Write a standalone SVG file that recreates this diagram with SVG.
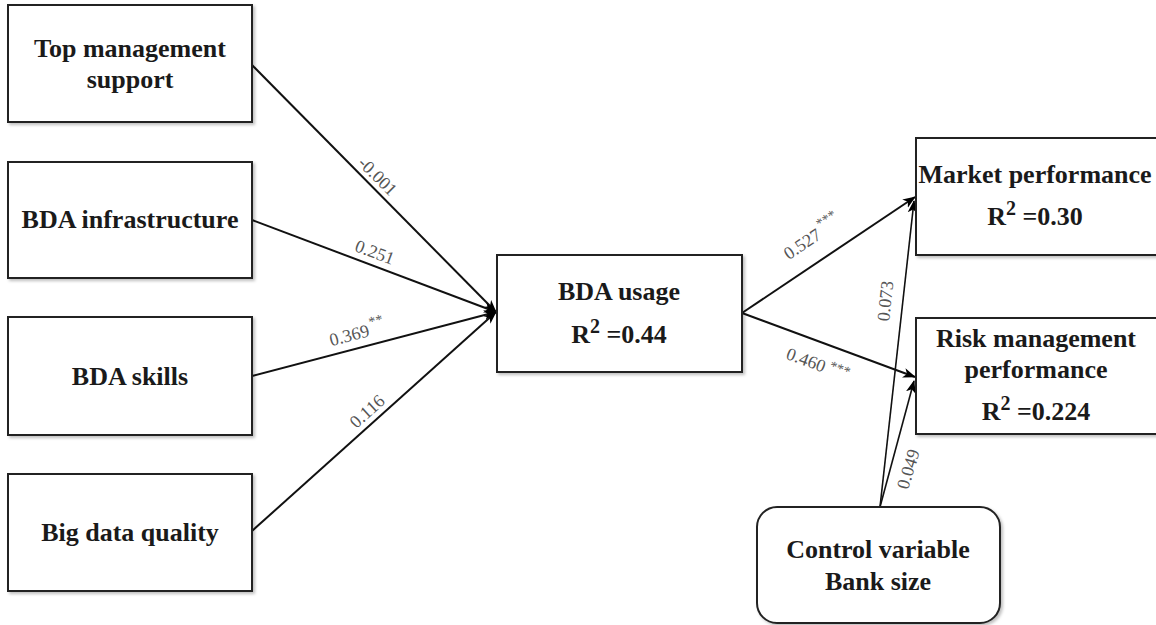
<svg xmlns="http://www.w3.org/2000/svg" width="1156" height="625" viewBox="0 0 1156 625">
<style>
.box{fill:#fff;stroke:#222;stroke-width:2;filter:url(#sh)}
.t{font-family:"Liberation Serif","Times New Roman",serif;font-weight:bold;font-size:26px;fill:#1a1a1a;text-anchor:middle}
.e{stroke:#111;stroke-width:2;fill:none;marker-end:url(#ah)}
.lb{font-family:"Liberation Serif","Times New Roman",serif;font-size:18px;fill:#555;text-anchor:middle}
.sup{font-size:14px}
</style>
<defs>
<filter id="sh" x="-10%" y="-10%" width="130%" height="130%">
<feDropShadow dx="2" dy="2" stdDeviation="1.5" flood-color="#000" flood-opacity="0.25"/>
</filter>
<marker id="ah" markerUnits="userSpaceOnUse" markerWidth="14" markerHeight="12" refX="12" refY="5" orient="auto" viewBox="0 0 14 10">
<path d="M0,0 L13,5 L0,10 L3.5,5 z" fill="#000"/>
</marker>
</defs>

<g id="connectors">
<line class="e" x1="252" y1="65" x2="496" y2="312"/>
<line class="e" x1="252" y1="220" x2="496" y2="312"/>
<line class="e" x1="252" y1="376" x2="496" y2="312"/>
<line class="e" x1="252" y1="531" x2="496" y2="312"/>
<line class="e" x1="742" y1="313" x2="915" y2="197"/>
<line class="e" x1="742" y1="313" x2="915" y2="377"/>
<line class="e" style="stroke-width:1.6" x1="880" y1="507" x2="914" y2="201"/>
<line class="e" style="stroke-width:1.6" x1="880" y1="507" x2="914" y2="381"/>
<text class="lb" transform="translate(378,176) rotate(45)" dy="0.35em">-0.001</text>
<text class="lb" transform="translate(375,252) rotate(20.6)" dy="0.35em">0.251</text>
<text class="lb" transform="translate(357,333) rotate(-14.6)" dy="0.35em">0.369<tspan class="sup" dx="2" dy="-9">**</tspan></text>
<text class="lb" transform="translate(367,411) rotate(-41.8)" dy="0.35em">0.116</text>
<text class="lb" transform="translate(812,237) rotate(-33.7)" dy="0.35em">0.527<tspan class="sup" dx="3" dy="-9">***</tspan></text>
<text class="lb" transform="translate(818,364) rotate(20.5)" dy="0.35em">0.460<tspan class="sup" dx="4" dy="-5">***</tspan></text>
<text class="lb" transform="translate(885,301) rotate(-84)" dy="0.35em">0.073</text>
<text class="lb" transform="translate(908,469) rotate(-73)" dy="0.35em">0.049</text>
</g>

<g id="top-management">
<rect class="box" x="8" y="5" width="244" height="117"/>
<text class="t" x="130" y="57">Top management</text>
<text class="t" x="130" y="88">support</text>
</g>
<g id="bda-infrastructure">
<rect class="box" x="8" y="162" width="244" height="116"/>
<text class="t" x="130" y="228">BDA infrastructure</text>
</g>
<g id="bda-skills">
<rect class="box" x="8" y="317" width="244" height="118"/>
<text class="t" x="130" y="385">BDA skills</text>
</g>
<g id="big-data-quality">
<rect class="box" x="8" y="474" width="244" height="117"/>
<text class="t" x="130" y="541">Big data quality</text>
</g>
<g id="bda-usage">
<rect class="box" x="497" y="255" width="245" height="117"/>
<text class="t" x="619" y="300">BDA usage</text>
<text class="t" x="619" y="343">R<tspan font-size="20" dy="-10">2</tspan><tspan dy="10"> =0.44</tspan></text>
</g>
<g id="market-performance">
<rect class="box" x="916" y="138" width="260" height="117"/>
<text class="t" x="1035" y="183">Market performance</text>
<text class="t" x="1035" y="225">R<tspan font-size="20" dy="-10">2</tspan><tspan dy="10"> =0.30</tspan></text>
</g>
<g id="risk-management-performance">
<rect class="box" x="916" y="318" width="260" height="116"/>
<text class="t" x="1036" y="347">Risk management</text>
<text class="t" x="1036" y="378">performance</text>
<text class="t" x="1036" y="420">R<tspan font-size="20" dy="-10">2</tspan><tspan dy="10"> =0.224</tspan></text>
</g>
<g id="control-variable">
<rect class="box" x="757" y="507" width="243" height="116" rx="20" ry="20"/>
<text class="t" x="878" y="558">Control variable</text>
<text class="t" x="878" y="590">Bank size</text>
</g>
</svg>
